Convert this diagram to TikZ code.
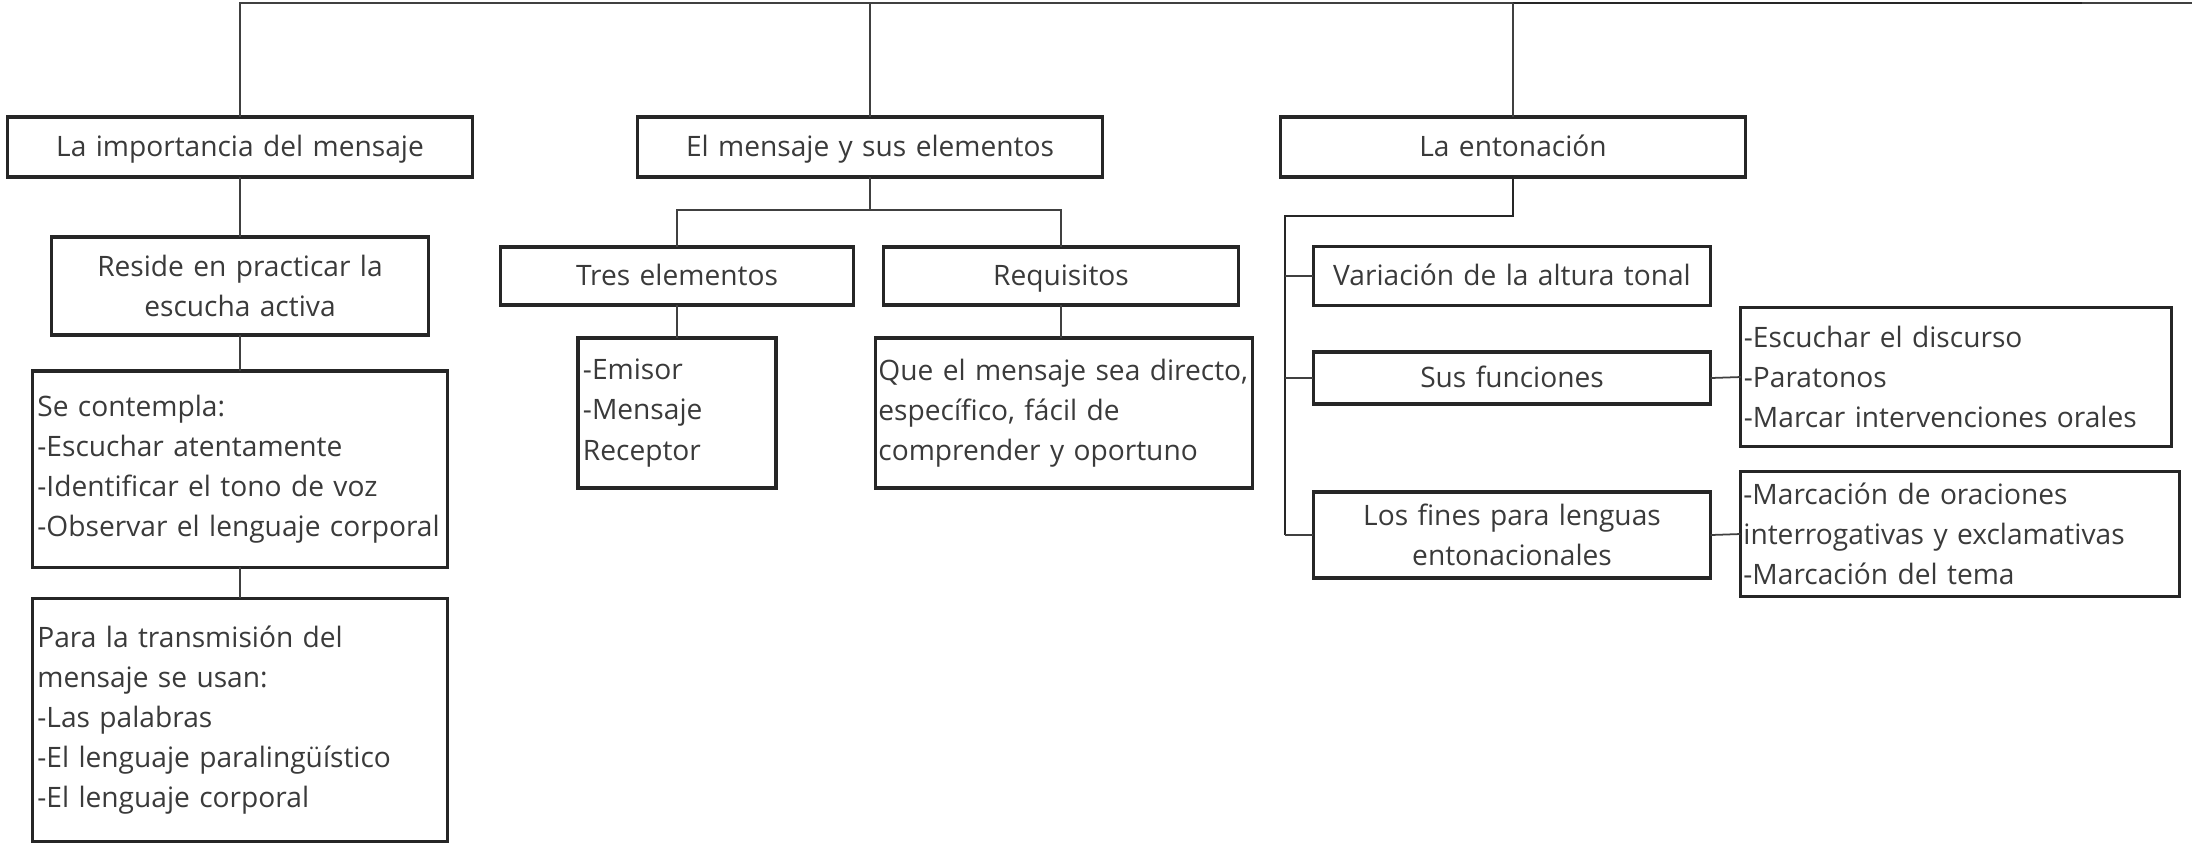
\documentclass[tikz,border=0pt]{standalone}
\usepackage{fontspec}
\setmainfont{Open Sans}
\definecolor{textgray}{HTML}{3A3A3A}
\definecolor{boxgray}{HTML}{262626}
\definecolor{linkgray}{HTML}{404040}
\begin{document}
\begin{tikzpicture}[x=0.01cm, y=-0.01cm, font=\fontsize{8}{11.4}\selectfont,
    every node/.style={text=textgray, inner sep=0pt, outer sep=0pt},
    box/.style={draw=boxgray, line width=0.9pt, inner xsep=0.05cm, align=center},
    oneline/.style={text height=1.6ex, text depth=0.55ex},
    list/.style={draw=boxgray, line width=0.9pt, inner xsep=0.05cm, align=left},
    link/.style={draw=linkgray, line width=0.5pt},
    trunk/.style={draw=boxgray, line width=0.8pt}]
    \useasboundingbox (0,0) rectangle (2192,847);

    % first row
    \node[box, oneline, text width=4.54cm, minimum height=0.6cm] (imp) at (240,147) {La importancia del mensaje};
    \node[box, oneline, text width=4.54cm, minimum height=0.6cm] (msj) at (870,147) {El mensaje y sus elementos};
    \node[box, oneline, text width=4.54cm, minimum height=0.6cm] (ent) at (1513,147) {La entonación};

    % left column
    \node[box, text width=3.67cm, minimum height=0.98cm] (res) at (240,286) {Reside en practicar la\\escucha activa};
    \node[list, text width=4.05cm, minimum height=1.96cm] (cont) at (240,469) {Se contempla:\\-Escuchar atentamente\\-Identificar el tono de voz\\-Observar el lenguaje corporal};
    \node[list, text width=4.05cm, minimum height=2.43cm] (trans) at (240,720) {Para la transmisión del\\mensaje se usan:\\-Las palabras\\-El lenguaje paralingüístico\\-El lenguaje corporal};

    % middle column
    \node[box, oneline, text width=3.43cm, minimum height=0.58cm] (tres) at (677,276) {Tres elementos};
    \node[box, oneline, text width=3.44cm, minimum height=0.58cm] (req) at (1061,276) {Requisitos};
    \node[list, text width=1.88cm, minimum height=1.5cm] (elem) at (677,413) {-Emisor\\-Mensaje\\Receptor};
    \node[list, inner xsep=0.03cm, text width=3.71cm, minimum height=1.5cm] (reqd) at (1064,413) {Que el mensaje sea directo,\\específico, fácil de\\comprender y oportuno};

    % right column
    \node[box, oneline, text width=3.87cm, minimum height=0.59cm] (var) at (1512,276) {Variación de la altura tonal};
    \node[box, oneline, text width=3.87cm, minimum height=0.52cm] (fun) at (1512,378) {Sus funciones};
    \node[box, text width=3.87cm, minimum height=0.86cm] (fin) at (1512,535) {Los fines para lenguas\\entonacionales};
    \node[list, inner xsep=0.03cm, text width=4.24cm, minimum height=1.39cm] (funl) at (1956,377) {-Escuchar el discurso\\-Paratonos\\-Marcar intervenciones orales};
    \node[list, inner xsep=0.03cm, text width=4.33cm, minimum height=1.25cm] (finl) at (1960,534) {-Marcación de oraciones\\interrogativas y exclamativas\\-Marcación del tema};

    % connectors
    \coordinate (top) at (2192,3);
    \coordinate (mb) at (870,210);
    \coordinate (eb) at (1285,216);

    \draw[link] (imp.north) -- (imp.north |- top) -- (top);
    \draw[trunk] (ent.north |- top) -- (2082,3);
    \draw[link] (msj.north) -- (msj.north |- top);
    \draw[link] (ent.north) -- (ent.north |- top);

    \draw[link] (imp.south) -- (res.north);
    \draw[link] (res.south) -- (cont.north);
    \draw[link] (cont.south) -- (trans.north);

    \draw[link] (msj.south) -- (mb);
    \draw[link] (tres.north) -- (tres.north |- mb) -- (req.north |- mb) -- (req.north);
    \draw[link] (tres.south) -- (elem.north);
    \draw[link] (req.south) -- (req.south |- reqd.north);

    \draw[trunk] (ent.south) -- (ent.south |- eb) -- (eb) -- (eb |- fin.west);
    \draw[link] (eb |- var.west) -- (var.west);
    \draw[link] (eb |- fun.west) -- (fun.west);
    \draw[link] (eb |- fin.west) -- (fin.west);
    \draw[link] (fun.east) -- (funl.west);
    \draw[link] (fin.east) -- (finl.west);
\end{tikzpicture}
\end{document}
